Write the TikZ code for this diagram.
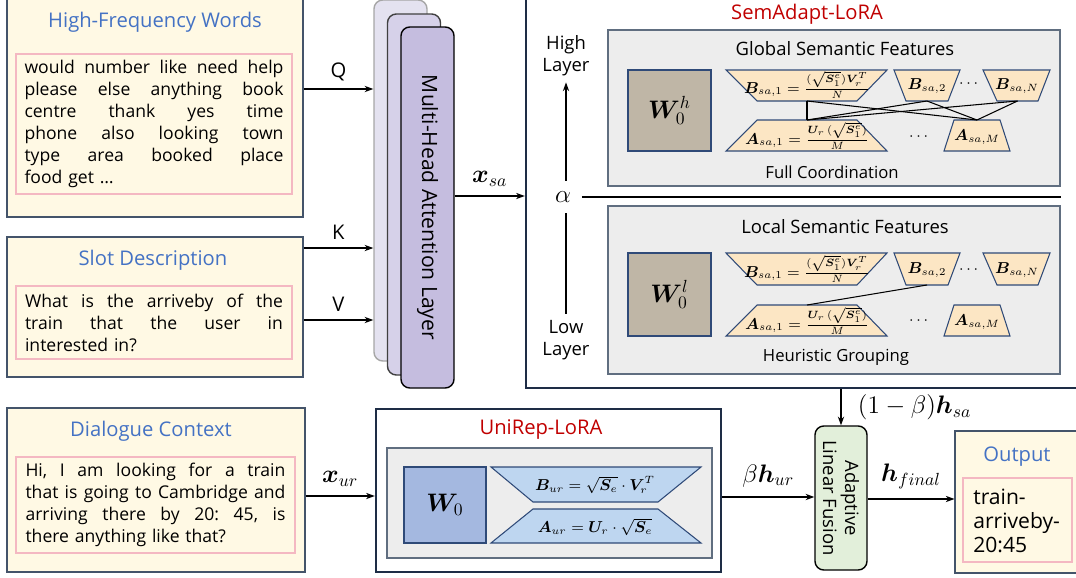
\documentclass[tikz,border=0pt]{standalone}
\usepackage{fontspec}
\setmainfont{Open Sans}
\usepackage{amsmath,bm}
\usetikzlibrary{arrows.meta}

\definecolor{cream}{RGB}{255,249,228}
\definecolor{slate}{RGB}{68,84,106}
\definecolor{pinkline}{RGB}{244,184,194}
\definecolor{titleblue}{RGB}{68,114,196}
\definecolor{titlered}{RGB}{192,0,0}
\definecolor{panel}{RGB}{237,237,237}
\definecolor{taupe}{RGB}{191,182,166}
\definecolor{peach}{RGB}{252,230,196}
\definecolor{trapline}{RGB}{47,74,120}
\definecolor{wblue}{RGB}{164,184,224}
\definecolor{lightblue}{RGB}{190,214,240}
\definecolor{fusegreen}{RGB}{226,239,218}
\definecolor{navy}{RGB}{30,45,70}
\definecolor{lavback}{RGB}{228,226,240}
\definecolor{lavmid}{RGB}{214,209,233}
\definecolor{lavfront}{RGB}{197,189,223}

\tikzset{
  inbox/.style={draw=slate, fill=cream, line width=0.6pt, inner sep=0pt},
  pinkbox/.style={draw=pinkline, line width=1.2pt, inner sep=0pt},
  boxtitle/.style={text=titleblue, font=\fontsize{11.5}{13}\selectfont},
  bodytext/.style={font=\fontsize{10}{12.5}\selectfont, align=left, inner sep=0pt},
  lorabox/.style={draw=navy, line width=1.4pt, inner sep=0pt},
  loratitle/.style={text=titlered, font=\fontsize{11.5}{13}\selectfont},
  panelbox/.style={draw=slate!85, fill=panel, line width=0.6pt, inner sep=0pt},
  paneltitle/.style={font=\fontsize{10.5}{12.5}\selectfont},
  smalltext/.style={font=\fontsize{9.5}{11}\selectfont},
  wbox/.style={draw=trapline, line width=0.6pt, inner sep=0pt, font=\fontsize{14}{16}\selectfont},
  trapA/.style={draw=trapline, fill=peach, line width=0.6pt},
  trapB/.style={draw=trapline, fill=lightblue, line width=0.6pt},
  traplabel/.style={font=\fontsize{9}{11}\selectfont, inner sep=0pt},
  layerbox/.style={rounded corners=5pt, line width=0.8pt, inner sep=0pt,
    minimum width=53*0.02cm, minimum height=361*0.02cm},
  arr/.style={-{Stealth[length=5pt,width=3.6pt]}, line width=0.6pt},
  link/.style={line width=0.6pt},
  mathlabel/.style={font=\fontsize{14}{16}\selectfont},
}

\begin{document}
\begin{tikzpicture}[x=0.02cm, y=-0.02cm]
  \useasboundingbox (0,0) rectangle (1076,578);
  \clip (0,0) rectangle (1076,578);

  % input boxes
  \node[inbox, minimum width=296*0.02cm, minimum height=222*0.02cm] (words) at (155,106) {};
  \node[boxtitle] (wordstitle) at (155,22) {High-Frequency Words};
  \node[pinkbox, minimum width=276*0.02cm, minimum height=140*0.02cm] (wordsin) at (154,124) {};
  \node[bodytext, text width=5.18cm] (wordstext) at (wordsin) {%
    \makebox[5.18cm]{would\hfill number\hfill like\hfill need\hfill help}\\
    \makebox[5.18cm]{please\hfill else\hfill anything\hfill book}\\
    \makebox[5.18cm]{centre\hfill thank\hfill yes\hfill time}\\
    \makebox[5.18cm]{phone\hfill also\hfill looking\hfill town}\\
    \makebox[5.18cm]{type\hfill area\hfill booked\hfill place}\\
    food get \ldots};

  \node[inbox, minimum width=296*0.02cm, minimum height=140*0.02cm] (slot) at (155,307) {};
  \node[boxtitle] (slottitle) at (153,260) {Slot Description};
  \node[pinkbox, minimum width=276*0.02cm, minimum height=73*0.02cm] (slotin) at (154,322.5) {};
  \node[bodytext, text width=5.16cm] (slottext) at (slotin) {%
    \makebox[5.16cm]{What\hfill is\hfill the\hfill arriveby\hfill of\hfill the}\\
    \makebox[5.16cm]{train\hfill that\hfill the\hfill user\hfill in}\\
    interested in?};

  \node[inbox, minimum width=298*0.02cm, minimum height=164*0.02cm] (dialog) at (156,490) {};
  \node[boxtitle] (dialogtitle) at (151,431) {Dialogue Context};
  \node[pinkbox, minimum width=279*0.02cm, minimum height=96*0.02cm] (dialogin) at (155.5,505) {};
  \node[bodytext, text width=5.2cm] (dialogtext) at (dialogin) {%
    \makebox[5.2cm]{Hi,\hfill I\hfill am\hfill looking\hfill for\hfill a\hfill train}\\
    \makebox[5.2cm]{that\hfill is\hfill going\hfill to\hfill Cambridge\hfill and}\\
    \makebox[5.2cm]{arriving\hfill there\hfill by\hfill 20:\hfill 45,\hfill is}\\
    there anything like that?};

  % attention layer
  \node[layerbox, draw=gray!70, fill=lavback] (head3) at (400.5,180.5) {};
  \node[layerbox, draw=black!75, fill=lavmid] (head2) at (414,194.5) {};
  \node[layerbox, draw=black, fill=lavfront] (head1) at (427.5,207.5) {};
  \node[rotate=-90, font=\fontsize{12}{14}\selectfont] (headlabel) at (head1) {Multi-Head Attention Layer};

  \draw[arr] ([yshift=0.34cm]words.east) coordinate (qstart) -- (qstart -| head3.west)
    node[midway, above=1pt, font=\fontsize{11.5}{13}\selectfont] {Q};
  \draw[arr] ([yshift=1.18cm]slot.east) coordinate (kstart) -- (kstart -| head3.west)
    node[midway, above=1pt, font=\fontsize{11.5}{13}\selectfont] {K};
  \draw[arr] ([yshift=-0.26cm]slot.east) coordinate (vstart) -- (vstart -| head3.west)
    node[midway, above=1pt, font=\fontsize{11.5}{13}\selectfont] {V};

  % SemAdapt-LoRA
  \node[lorabox, minimum width=564*0.02cm, minimum height=398*0.02cm] (sem) at (808,189) {};
  \node[loratitle] (semtitle) at (807,14) {SemAdapt-LoRA};
  \draw[arr] ([yshift=0.23cm]head1.east) coordinate (xsa) -- (xsa -| sem.west)
    node[midway, above=2pt, mathlabel] {$\bm{x}_{sa}$};

  \node[font=\fontsize{15}{17}\selectfont, inner sep=6pt] (alpha) at (563,197) {$\alpha$};
  \node[paneltitle, align=center] (high) at (566,56) {High\\Layer};
  \node[paneltitle, align=center] (low) at (566,340) {Low\\Layer};
  \draw[arr] (alpha.north -| high.south) -- (high.south);
  \draw[link] (alpha.south -| low.north) -- (low.north);

  % global semantic features
  \node[panelbox, minimum width=452*0.02cm, minimum height=156*0.02cm] (global) at (834,108) {};
  \node[paneltitle] (globaltitle) at (845,49) {Global Semantic Features};
  \node[wbox, fill=taupe, minimum width=83*0.02cm, minimum height=81*0.02cm] (wh) at (669.5,110.5) {$\bm{W}_0^h$};
  \draw[trapA] (726,70) -- (887,70) -- (857,101) -- coordinate (gB1b) (757,101) -- cycle;
  \draw[trapA] (894,70) -- (960,70) -- (948,101) -- coordinate (gB2b) (906,101) -- cycle;
  \draw[trapA] (983,70) -- (1050,70) -- (1038,101) -- coordinate (gBNb) (997,101) -- cycle;
  \draw[trapA] (757,120) -- coordinate (gA1t) (857,120) -- (887,151) -- (726,151) -- cycle;
  \draw[trapA] (954,120) -- coordinate (gAMt) (1000,120) -- (1010,151) -- (944,151) -- cycle;
  \node[traplabel] (gB1) at (807,85) {$\bm{B}_{sa,1}=\frac{(\sqrt{\bm{S}_1^e})\bm{V}_r^T}{N}$};
  \node[traplabel] (gB2) at (927,86) {$\bm{B}_{sa,2}$};
  \node[traplabel] (gBN) at (1017,86) {$\bm{B}_{sa,N}$};
  \node[traplabel] (gA1) at (807,136) {$\bm{A}_{sa,1}=\frac{\bm{U}_r\,(\sqrt{\bm{S}_1^e})}{M}$};
  \node[traplabel] (gAM) at (977,137) {$\bm{A}_{sa,M}$};
  \node[traplabel] (gBdots) at (970,84) {$\cdots$};
  \node[traplabel] (gAdots) at (920,137) {$\cdots$};
  \foreach \b in {gB1b,gB2b,gBNb}
    \foreach \a in {gA1t,gAMt}
      \draw[link] (\b) -- (\a);
  \node[smalltext] (globalnote) at (832,172) {Full Coordination};

  \draw[link] (alpha.east) -- (alpha.east -| global.east);

  % local semantic features
  \node[panelbox, minimum width=452*0.02cm, minimum height=168*0.02cm] (local) at (834,290) {};
  \node[paneltitle] (localtitle) at (845,227) {Local Semantic Features};
  \node[wbox, fill=taupe, minimum width=83*0.02cm, minimum height=83*0.02cm] (wl) at (669.5,294.5) {$\bm{W}_0^l$};
  \draw[trapA] (726,253) -- (887,253) -- (857,285) -- coordinate (lB1b) (757,285) -- cycle;
  \draw[trapA] (894,253) -- (960,253) -- (948,285) -- coordinate (lB2b) (906,285) -- cycle;
  \draw[trapA] (983,253) -- (1050,253) -- (1038,285) -- coordinate (lBNb) (997,285) -- cycle;
  \draw[trapA] (757,305) -- coordinate (lA1t) (857,305) -- (887,336) -- (726,336) -- cycle;
  \draw[trapA] (954,305) -- coordinate (lAMt) (1000,305) -- (1010,336) -- (944,336) -- cycle;
  \node[traplabel] (lB1) at (807,269) {$\bm{B}_{sa,1}=\frac{(\sqrt{\bm{S}_1^e})\bm{V}_r^T}{N}$};
  \node[traplabel] (lB2) at (927,270) {$\bm{B}_{sa,2}$};
  \node[traplabel] (lBN) at (1017,270) {$\bm{B}_{sa,N}$};
  \node[traplabel] (lA1) at (807,321) {$\bm{A}_{sa,1}=\frac{\bm{U}_r\,(\sqrt{\bm{S}_1^e})}{M}$};
  \node[traplabel] (lAM) at (977,322) {$\bm{A}_{sa,M}$};
  \node[traplabel] (lBdots) at (970,270) {$\cdots$};
  \node[traplabel] (lAdots) at (920,321) {$\cdots$};
  \draw[link] (lB2b) -- (lA1t);
  \node[smalltext] (localnote) at (836,357) {Heuristic Grouping};

  % UniRep-LoRA
  \node[lorabox, minimum width=345*0.02cm, minimum height=163*0.02cm] (uni) at (548.5,490.5) {};
  \node[loratitle] (unititle) at (541,430) {UniRep-LoRA};
  \node[panelbox, minimum width=325*0.02cm, minimum height=110*0.02cm] (unipanel) at (549.5,503) {};
  \node[wbox, fill=wblue, minimum width=82*0.02cm, minimum height=76*0.02cm] (w0) at (445,505) {$\bm{W}_0$};
  \draw[trapB] (491,467) -- (701,467) -- (658,502) -- (533,502) -- cycle;
  \draw[trapB] (533,509) -- (658,509) -- (701,543) -- (491,543) -- cycle;
  \node[traplabel] (bur) at (595,485) {$\bm{B}_{ur}=\sqrt{\bm{S}_e}\cdot\bm{V}_r^T$};
  \node[traplabel] (aur) at (595,527) {$\bm{A}_{ur}=\bm{U}_r\cdot\sqrt{\bm{S}_e}$};
  \draw[arr] ([yshift=-0.12cm]dialog.east) coordinate (xur) -- (xur -| uni.west)
    node[midway, above=2pt, mathlabel] {$\bm{x}_{ur}$};

  % fusion and output
  \node[draw=black, fill=fusegreen, rounded corners=5pt, line width=0.8pt, inner sep=0pt,
    minimum width=52*0.02cm, minimum height=144*0.02cm] (fusion) at (841,498) {};
  \node[rotate=-90, align=center, font=\fontsize{10.5}{12.5}\selectfont] (fusionlabel) at (fusion) {Adaptive\\Linear Fusion};
  \draw[arr] (fusion.north |- sem.south) -- (fusion.north)
    node[midway, right=6pt, mathlabel] {$(1-\beta)\bm{h}_{sa}$};
  \draw[arr] ([yshift=-0.13cm]uni.east) coordinate (hur) -- (hur -| fusion.west)
    node[midway, above=2pt, mathlabel] {$\beta\bm{h}_{ur}$};

  \node[inbox, minimum width=135*0.02cm, minimum height=142*0.02cm] (output) at (1022.5,502) {};
  \node[boxtitle] (outputtitle) at (1017,457) {Output};
  \node[pinkbox, minimum width=109*0.02cm, minimum height=84*0.02cm] (outputin) at (1017.5,520) {};
  \node[bodytext, font=\fontsize{12}{13.5}\selectfont, anchor=west] (outputtext) at (973,521) {train-\\arriveby-\\20:45};
  \draw[arr] ([yshift=-0.02cm]fusion.east) coordinate (hf) -- (hf -| output.west)
    node[midway, above=2pt, mathlabel] {$\bm{h}_{final}$};
\end{tikzpicture}
\end{document}
